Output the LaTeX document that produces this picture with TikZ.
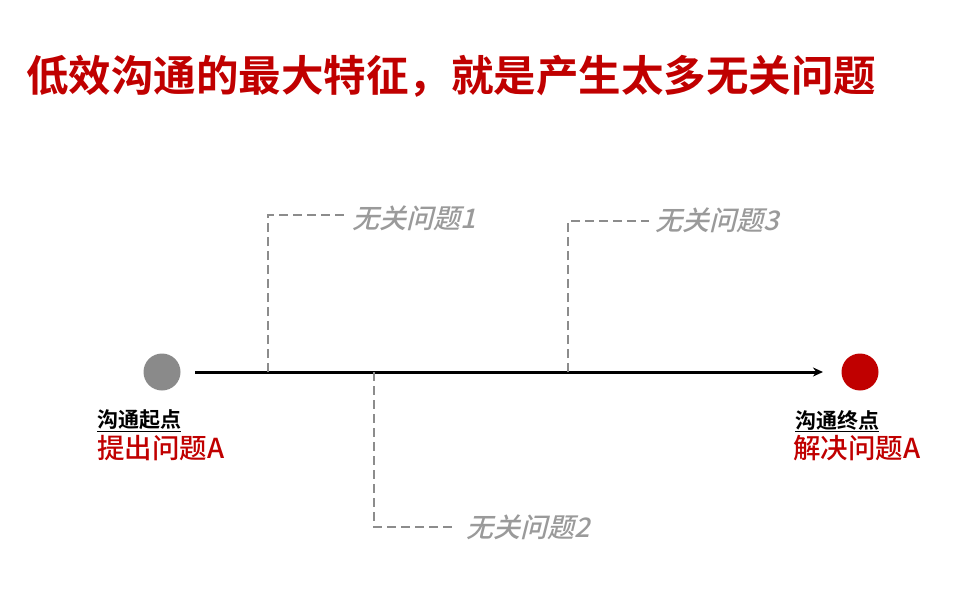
\documentclass[tikz,border=0pt]{standalone}
\usepackage{fontspec}
\usepackage{xcolor}
\setmainfont{Noto Sans CJK SC Medium}
\newfontfamily\cjkbold{Noto Sans CJK SC Bold}
\newfontfamily\cjkslant[FakeSlant=0.25]{Noto Sans CJK SC Medium}
\usetikzlibrary{arrows.meta, positioning}
\definecolor{titlered}{HTML}{C00000}
\definecolor{dotgray}{HTML}{8A8A8A}
\definecolor{dashgray}{HTML}{8C8C8C}
\definecolor{labelgray}{HTML}{9A9A9A}

\begin{document}
\begin{tikzpicture}[
    x=1pt, y=-1pt,
    dot/.style={circle, minimum size=37pt, inner sep=0pt},
    branch/.style={dashgray, dashed, dash pattern=on 9pt off 5pt, line width=2.4pt},
    issue/.style={anchor=west, inner sep=0pt, text=labelgray, font=\cjkslant\fontsize{27pt}{27pt}\selectfont},
    endtitle/.style={anchor=west, inner sep=0pt, font=\cjkbold\fontsize{21pt}{21pt}\selectfont},
    endtext/.style={anchor=west, inner sep=0pt, text=titlered, font=\fontsize{27.5pt}{27.5pt}\selectfont}
  ]
    \useasboundingbox (0,0) rectangle (960,612);
    \node[anchor=west, inner sep=0pt, text=titlered, font=\cjkbold\fontsize{42.5pt}{42.5pt}\selectfont] (title) at (26,76) {低效沟通的最大特征，就是产生太多无关问题};

    \node[dot, fill=dotgray] (start) at (162,372) {};
    \node[dot, fill=titlered] (goal) at (860,372) {};
    \coordinate (lstart) at (195,372);
    \coordinate (lend) at (823,372);
    \draw[line width=3pt, -{Stealth[length=10pt, width=9pt]}] (lstart) -- (lend);

    % branches
    \coordinate (b1) at (268,372);
    \coordinate (b2) at (374,372);
    \coordinate (b3) at (568,372);
    \node[issue] (q1) at (352,218) {无关问题1};
    \node[issue] (q2) at (466,527) {无关问题2};
    \node[issue] (q3) at (655,220) {无关问题3};
    \draw[branch] (b1) -- (268,215) -- ([xshift=-6pt]q1.west |- 0,215);
    \draw[branch] (b2) -- (374,527) -- ([xshift=-10pt]q2.west);
    \draw[branch] (b3) -- (568,221) -- ([xshift=-6pt]q3.west |- 0,221);

    \node[endtitle] (st) at (97,421) {\underline{沟通起点}};
    \node[endtext, below=3pt of st.south west, anchor=north west] (sa) {提出问题A};
    \node[endtitle] (gt) at (795,421) {\underline{沟通终点}};
    \node[endtext, below=3pt of gt.south west, anchor=north west, xshift=-2pt] (ga) {解决问题A};
\end{tikzpicture}
\end{document}
